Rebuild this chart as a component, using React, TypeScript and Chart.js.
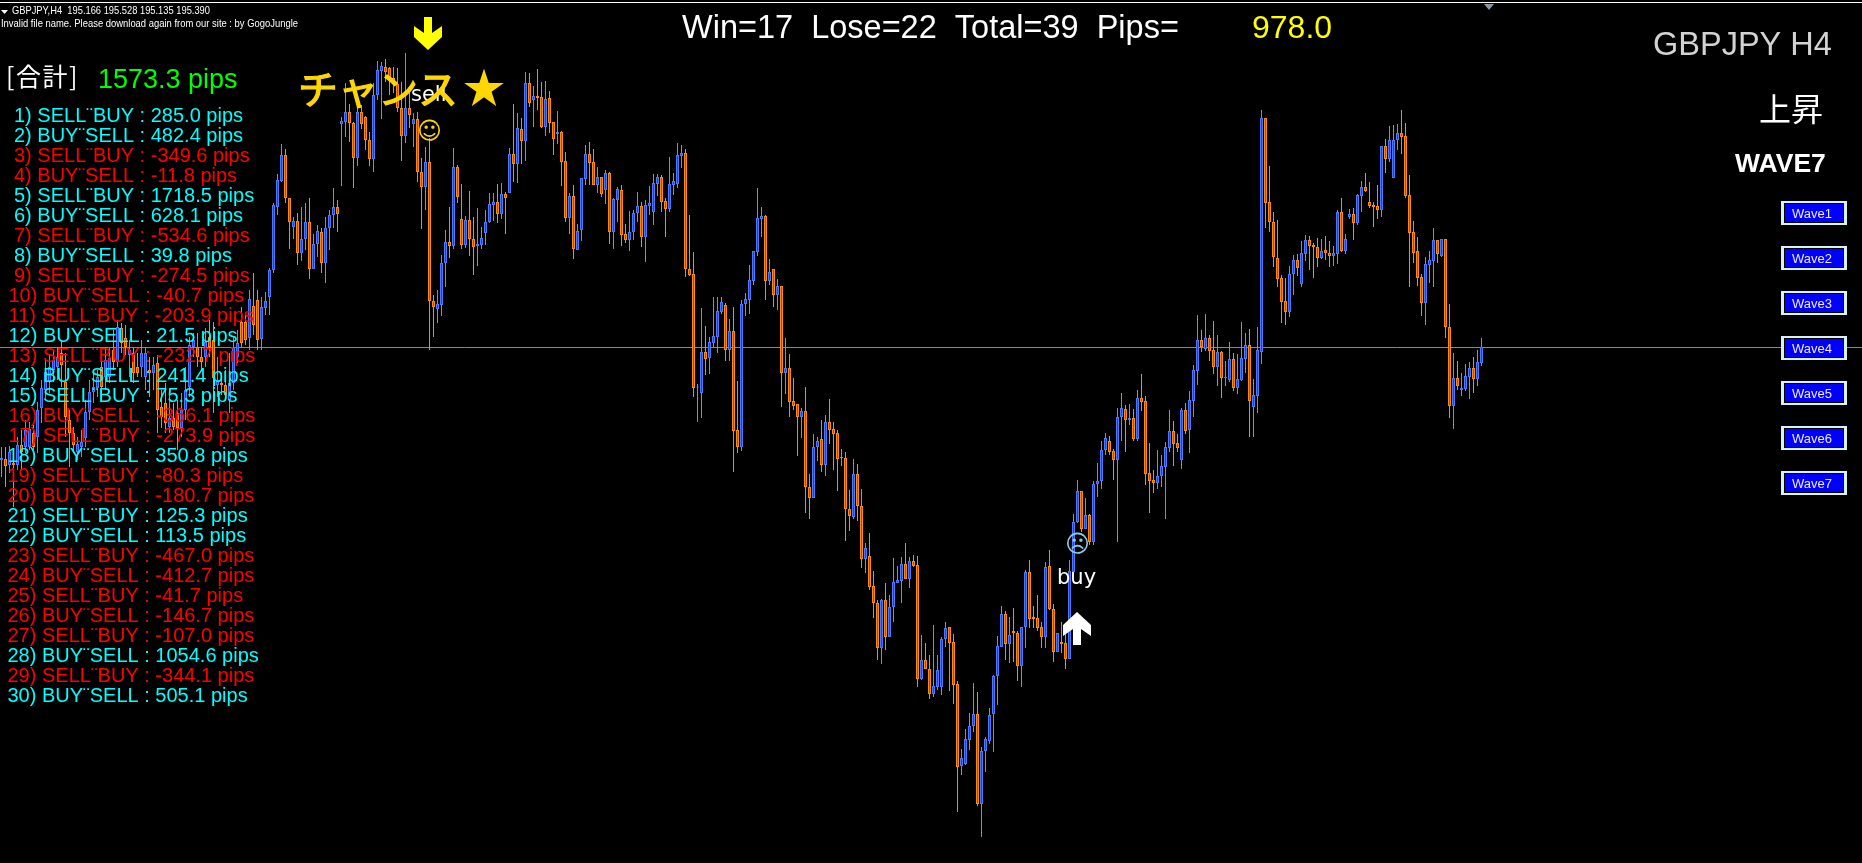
import React, { useEffect, useRef } from "react";
import { Chart, registerables } from "chart.js";

Chart.register(...registerables);

// GBPJPY H4 candles. Values are pips above the level 182.33.
const open = [
1080,1082,1070,1074,1070,1110,1106,1106,1134,1126,
1184,1220,1236,1260,1266,1294,1236,1160,1134,1096,
1106,1124,1176,1216,1224,1266,1246,1246,1300,1276,
1344,1324,1290,1294,1266,1266,1246,1260,1254,1274,
1186,1194,1146,1164,1174,1144,1180,1226,1306,1306,
1286,1286,1326,1320,1230,1234,1230,1200,1234,1286,
1356,1356,1324,1388,1400,1322,1384,1406,1460,1586,
1638,1690,1604,1546,1558,1494,1522,1556,1462,1512,
1536,1474,1544,1570,1586,1752,1756,1776,1754,1684,
1776,1766,1720,1682,1810,1858,1866,1864,1844,1832,
1784,1728,1784,1752,1762,1656,1626,1676,1398,1382,
1390,1474,1516,1508,1666,1562,1510,1560,1522,1508,
1510,1534,1556,1590,1596,1572,1612,1614,1692,1672,
1742,1718,1834,1800,1808,1806,1746,1804,1756,1732,
1736,1678,1564,1608,1500,1540,1642,1692,1676,1630,
1646,1620,1654,1536,1600,1620,1532,1520,1536,1574,
1588,1526,1588,1576,1632,1646,1598,1582,1630,1632,
1688,1694,1462,1452,1225,1214,1296,1284,1314,1326,
1376,1390,1300,1338,1140,1106,1392,1400,1438,1496,
1562,1568,1438,1462,1410,1428,1254,1264,1198,1192,
1166,1178,1026,1004,1106,1122,1070,1156,1142,1134,
1084,1084,982,966,1052,988,882,888,828,794,
704,800,726,786,834,838,872,842,878,870,
642,680,662,612,626,626,722,746,716,632,
468,472,520,548,572,392,498,518,572,648,
706,772,712,738,734,668,746,856,766,764,
746,726,868,782,696,716,714,682,856,956,
1018,942,970,916,1032,1038,1100,1118,1098,1080,
1166,1182,1160,1164,1122,1204,1198,1054,1040,1034,
1048,1066,1104,1138,1114,1080,1180,1140,1198,1258,
1320,1302,1324,1300,1266,1296,1244,1240,1282,1224,
1240,1282,1310,1186,1208,1296,1764,1596,1556,1484,
1444,1398,1376,1452,1480,1432,1492,1520,1510,1506,
1484,1500,1494,1488,1492,1576,1498,1566,1572,1554,
1608,1626,1596,1590,1588,1580,1708,1682,1644,1720,
1734,1728,1610,1536,1498,1446,1394,1470,1478,1520,
1488,1522,1346,1188,1244,1220,1222,1246,1264,1242,
1274,
];
const high = [
1106,1106,1108,1090,1126,1140,1160,1156,1150,1196,
1240,1284,1290,1300,1306,1320,1294,1180,1146,1126,
1140,1200,1240,1254,1260,1300,1306,1306,1340,1360,
1354,1350,1320,1306,1294,1320,1306,1286,1286,1290,
1220,1234,1220,1194,1200,1214,1266,1326,1334,1334,
1306,1344,1360,1356,1286,1254,1260,1294,1326,1340,
1386,1370,1420,1454,1420,1406,1416,1464,1594,1652,
1712,1702,1604,1566,1574,1586,1594,1604,1532,1550,
1544,1566,1580,1624,1600,1766,1834,1792,1756,1788,
1790,1768,1736,1834,1878,1876,1882,1866,1866,1864,
1836,1894,1820,1774,1776,1684,1706,1724,1410,1420,
1490,1540,1586,1704,1670,1632,1568,1618,1566,1584,
1546,1580,1614,1614,1632,1634,1616,1704,1792,1774,
1764,1856,1854,1828,1862,1836,1838,1818,1756,1778,
1738,1696,1614,1630,1552,1644,1710,1716,1702,1666,
1646,1660,1656,1604,1626,1630,1552,1578,1580,1616,
1596,1600,1628,1652,1652,1650,1604,1686,1654,1714,
1710,1702,1570,1496,1232,1384,1348,1326,1406,1406,
1406,1394,1362,1386,1238,1400,1414,1470,1498,1624,
1586,1570,1482,1462,1442,1428,1324,1292,1244,1192,
1184,1226,1052,1132,1126,1160,1170,1202,1156,1140,
1102,1096,1020,1082,1072,1022,914,934,858,800,
802,834,810,884,868,886,914,886,890,888,
730,714,690,750,690,726,756,746,732,638,
502,542,574,634,616,506,526,584,650,728,
788,778,766,784,738,746,860,880,788,810,
756,876,900,792,734,756,734,880,972,1040,
1018,1004,972,1038,1074,1118,1134,1128,1102,1184,
1214,1190,1192,1182,1220,1252,1208,1114,1060,1100,
1090,1116,1180,1158,1132,1184,1194,1218,1270,1370,
1340,1372,1330,1358,1330,1298,1278,1316,1294,1292,
1356,1334,1342,1242,1346,1780,1764,1668,1576,1560,
1450,1444,1468,1490,1492,1518,1530,1528,1514,1524,
1522,1528,1518,1508,1580,1604,1532,1582,1584,1612,
1638,1654,1636,1596,1630,1708,1722,1748,1750,1752,
1780,1754,1650,1558,1526,1452,1486,1498,1544,1520,
1522,1522,1392,1294,1278,1254,1272,1276,1286,1300,
1324,
];
const low = [
1046,1026,1054,986,1060,1060,1094,1100,1100,1094,
1154,1204,1214,1236,1240,1226,1126,1066,1094,1080,
1086,1106,1160,1194,1206,1220,1220,1234,1260,1266,
1294,1290,1246,1234,1246,1246,1220,1206,1220,1134,
1144,1134,1134,1140,1100,1126,1160,1206,1286,1266,
1260,1266,1286,1174,1206,1210,1200,1174,1220,1274,
1306,1310,1300,1330,1300,1300,1370,1370,1454,1570,
1636,1594,1502,1522,1470,1478,1500,1442,1462,1486,
1454,1434,1500,1544,1536,1628,1726,1716,1624,1668,
1742,1700,1668,1656,1800,1762,1836,1810,1814,1776,
1678,1714,1744,1706,1636,1542,1580,1300,1326,1354,
1368,1426,1484,1502,1594,1502,1504,1488,1450,1468,
1502,1510,1554,1558,1554,1562,1532,1614,1636,1634,
1672,1678,1786,1746,1780,1744,1728,1734,1690,1712,
1628,1556,1532,1482,1500,1518,1630,1630,1630,1614,
1606,1592,1512,1502,1556,1508,1514,1498,1520,1556,
1506,1476,1570,1550,1608,1576,1526,1576,1610,1624,
1664,1446,1448,1206,1156,1164,1250,1252,1306,1294,
1372,1278,1278,1056,1094,1098,1368,1372,1430,1488,
1526,1400,1430,1386,1380,1186,1212,1166,1180,1088,
1124,974,962,1004,1078,1056,1048,1112,1060,1018,
1068,918,938,962,958,864,854,820,764,680,
672,700,726,756,834,794,842,824,866,626,
640,662,602,606,620,610,706,618,592,376,
450,470,500,536,388,326,456,512,496,590,
706,680,674,676,638,626,704,744,744,738,
704,704,780,676,696,694,662,682,856,954,
936,942,910,910,1006,1022,1090,1090,1040,916,
1118,1096,1150,1118,1118,1178,1030,974,1014,1022,
1026,962,1096,1068,1096,1062,1132,1094,1166,1230,
1296,1298,1278,1252,1228,1204,1228,1236,1218,1212,
1238,1254,1126,1126,1174,1272,1544,1536,1466,1426,
1354,1350,1366,1410,1448,1426,1478,1460,1444,1466,
1482,1480,1466,1468,1472,1496,1492,1562,1520,1550,
1576,1616,1584,1546,1562,1566,1654,1676,1644,1700,
1692,1604,1426,1474,1428,1368,1350,1434,1426,1474,
1486,1324,1164,1142,1220,1208,1218,1202,1214,1228,
1268,
];
const close = [
1084,1068,1096,1070,1110,1096,1140,1142,1106,1180,
1224,1256,1266,1280,1286,1270,1166,1134,1110,1112,
1116,1176,1216,1226,1246,1226,1280,1284,1276,1346,
1314,1306,1300,1254,1254,1294,1294,1254,1270,1180,
1166,1154,1164,1146,1144,1180,1220,1310,1320,1286,
1276,1316,1306,1244,1240,1230,1210,1234,1306,1314,
1314,1320,1402,1350,1320,1386,1398,1460,1590,1640,
1690,1604,1556,1558,1494,1522,1556,1462,1512,1538,
1474,1544,1570,1586,1572,1758,1776,1754,1684,1776,
1752,1720,1682,1810,1860,1868,1856,1844,1832,1784,
1728,1784,1770,1762,1656,1626,1676,1398,1386,1392,
1474,1516,1508,1666,1606,1510,1560,1522,1506,1512,
1524,1556,1592,1596,1572,1612,1604,1692,1672,1744,
1718,1834,1794,1808,1804,1746,1802,1754,1722,1736,
1676,1564,1608,1502,1538,1644,1692,1674,1630,1646,
1612,1654,1536,1602,1622,1530,1520,1536,1574,1588,
1526,1590,1594,1634,1646,1596,1582,1632,1638,1690,
1694,1462,1450,1224,1226,1296,1282,1316,1328,1378,
1396,1300,1338,1138,1106,1392,1402,1440,1498,1564,
1568,1438,1456,1410,1428,1254,1264,1196,1188,1166,
1178,1026,1004,1106,1118,1070,1156,1140,1132,1082,
1084,982,968,1052,988,882,904,826,794,704,
800,726,786,836,840,872,842,878,868,642,
680,662,612,628,660,722,744,714,630,466,
484,522,548,572,392,498,522,570,648,708,
772,712,730,734,668,746,856,762,762,744,
726,866,782,696,734,712,682,858,956,1018,
942,970,916,1032,1038,1100,1124,1096,1080,1166,
1184,1160,1164,1122,1204,1196,1052,1038,1034,1048,
1068,1106,1138,1112,1104,1180,1138,1200,1260,1320,
1306,1324,1298,1266,1296,1244,1246,1282,1224,1242,
1284,1310,1198,1210,1300,1764,1594,1556,1486,1442,
1396,1376,1452,1480,1464,1494,1520,1508,1506,1484,
1498,1494,1488,1494,1576,1498,1522,1572,1554,1610,
1626,1618,1588,1586,1580,1708,1682,1720,1720,1734,
1726,1608,1534,1494,1444,1394,1472,1480,1520,1492,
1522,1346,1188,1244,1228,1224,1248,1264,1242,1276,
1306,
];

const currentLevel = 1305;
const tradeKinds = ["SELL¨BUY", "BUY¨SELL"];
const tradePips = ["285.0","482.4","-349.6","-11.8","1718.5","628.1","-534.6","39.8","-274.5","-40.7",
  "-203.9","21.5","-232.7","241.4","75.3","-366.1","-273.9","350.8","-80.3","-180.7",
  "125.3","113.5","-467.0","-412.7","-41.7","-146.7","-107.0","1054.6","-344.1","505.1"];
const waveLabels = ["Wave1","Wave2","Wave3","Wave4","Wave5","Wave6","Wave7"];

const ARIAL = '"Liberation Sans", Arial, sans-serif';
const CJK = '"Noto Sans CJK JP", sans-serif';
const DEJAVU = '"DejaVu Sans", sans-serif';

function poly(ctx: CanvasRenderingContext2D, pts: number[][], color: string) {
  ctx.fillStyle = color;
  ctx.beginPath();
  pts.forEach((p, i) => (i ? ctx.lineTo(p[0], p[1]) : ctx.moveTo(p[0], p[1])));
  ctx.closePath();
  ctx.fill();
}

function text(ctx: CanvasRenderingContext2D, s: string, x: number, y: number, font: string, color: string, width?: number) {
  ctx.font = font;
  ctx.fillStyle = color;
  if (width) ctx.fillText(s, x, y, width);
  else ctx.fillText(s, x, y);
}

const overlay = {
  id: "overlay",
  afterDatasetsDraw(chart: any) {
    const ctx: any = chart.ctx;
    ctx.save();
    ctx.textBaseline = "alphabetic";
    ctx.textAlign = "left";
    ctx.fillStyle = "#ffffff";
    ctx.fillRect(0, 2, 1862, 1);
    poly(ctx, [[1,10],[8,10],[4.5,14]], "#ffffff");
    poly(ctx, [[1484,4],[1494,4],[1489,10]], "#8a96a3");

    text(ctx, "GBPJPY,H4  195.166 195.528 195.135 195.390", 12, 14, `11px ${ARIAL}`, "#ffffff", 198);
    text(ctx, "Invalid file name. Please download again from our site : by GogoJungle", 1, 27, `11px ${ARIAL}`, "#ffffff", 297);

    ctx.letterSpacing = "1.5px";
    text(ctx, "[合計]", 6, 86, `25px ${CJK}`, "#ffffff");
    ctx.letterSpacing = "0px";
    text(ctx, "1573.3 pips", 98, 88, `27px ${ARIAL}`, "#00ff00", 140);

    tradePips.forEach((p, i) => {
      const n = i + 1;
      const x = n < 10 ? 14 : n < 18 ? 8.5 : 7.5;
      const c = p.startsWith("-") ? "#ff0000" : "#00ffff";
      const s = `${n}) ${tradeKinds[i % 2 === 0 ? 0 : 1]} : ${p} pips`;
      text(ctx, s, x, 122 + 20 * i, `20px ${ARIAL}`, c);
    });

    text(ctx, "Win=17  Lose=22  Total=39  Pips=", 682, 38, `32.5px ${ARIAL}`, "#ffffff", 500);
    text(ctx, "978.0", 1252, 38, `32px ${ARIAL}`, "#ffff00");
    text(ctx, "GBPJPY H4", 1653, 55, `32.5px ${ARIAL}`, "#d3d3d3");
    text(ctx, "上昇", 1759, 121, `32px ${CJK}`, "#ffffff");
    text(ctx, "WAVE7", 1735, 172, `bold 26.5px ${ARIAL}`, "#ffffff");

    waveLabels.forEach((w, i) => {
      const y = 201 + 45 * i;
      ctx.fillStyle = "#d8f0ee";
      ctx.fillRect(1781, y, 66, 24);
      ctx.fillStyle = "#000000";
      ctx.fillRect(1784, y + 2, 60, 20);
      ctx.fillStyle = "#0000ff";
      ctx.fillRect(1785, y + 3, 58, 18);
      ctx.textAlign = "center";
      text(ctx, w, 1812, y + 17, `13px ${ARIAL}`, "#f0e8ff");
      ctx.textAlign = "left";
    });

    text(ctx, "sell", 411, 101, `21px ${DEJAVU}`, "#ffffff");
    text(ctx, "チャンス", 298, 104, `40px ${CJK}`, "#ffd700");
    ctx.strokeStyle = "#ffd700";
    ctx.lineWidth = 1.2;
    ctx.strokeText("チャンス", 298, 104);
    text(ctx, "★", 463, 103, `42px ${CJK}`, "#ffd700");
    text(ctx, "☺", 417, 139, `24px ${DEJAVU}`, "#ffd700");
    text(ctx, "☹", 1065, 552, `24px ${DEJAVU}`, "#87ceeb");
    text(ctx, "buy", 1057, 584, `21px ${DEJAVU}`, "#ffffff");

    poly(ctx, [[424,17],[432,17],[432,33],[442,26],[442,37],[428,50],[414,37],[414,26],[424,33]], "#ffff00");
    poly(ctx, [[1077,612],[1091,625],[1091,636],[1081,629],[1081,645],[1073,645],[1073,629],[1063,636],[1063,625]], "#ffffff");
    ctx.restore();
  },
};

export default function App() {
  const ref = useRef<HTMLCanvasElement>(null);
  useEffect(() => {
    document.body.style.margin = "0";
    document.body.style.background = "#000";
    const idx = open.map((_, i) => i);
    const isBull = (i: number) => close[i] > open[i];
    const isDoji = (i: number) => close[i] === open[i];
    const wickColor = idx.map((i) => (isDoji(i) ? "#00ff00" : isBull(i) ? "#6495ed" : "#ff8c00"));
    const bodyFill = idx.map((i) => (isDoji(i) ? "#00ff00" : isBull(i) ? "#1a3cff" : "#ff2000"));
    const bodyLine = idx.map((i) => (isDoji(i) ? "#00ff00" : isBull(i) ? "#4a78ff" : "#ff8c00"));
    const xMin = -0.375;
    const xMax = 465.125;
    const chart = new Chart(ref.current!, {
      type: "bar",
      data: {
        datasets: [
          {
            type: "line",
            data: [{ x: xMin, y: currentLevel }, { x: xMax, y: currentLevel }],
            borderColor: "#7d8a99",
            borderWidth: 1,
            pointRadius: 0,
            order: 3,
          },
          {
            data: idx.map((i) => ({ x: i, y: [low[i], high[i]] })),
            backgroundColor: wickColor,
            borderWidth: 0,
            barThickness: 1,
            grouped: false,
            inflateAmount: 0,
            order: 2,
          },
          {
            data: idx.map((i) => ({ x: i, y: [open[i], close[i]] })),
            backgroundColor: bodyFill,
            borderColor: bodyLine,
            borderWidth: 1,
            borderSkipped: false,
            barThickness: 3,
            grouped: false,
            inflateAmount: 0,
            minBarLength: 1,
            order: 1,
          },
        ] as any,
      },
      options: {
        responsive: false,
        animation: false,
        devicePixelRatio: 1,
        layout: { padding: 0 },
        plugins: { legend: { display: false }, tooltip: { enabled: false } },
        scales: {
          x: { type: "linear", min: xMin, max: xMax, offset: false, display: false, bounds: "data" },
          y: { type: "linear", min: 274, max: 2000, display: false, bounds: "data" },
        },
      } as any,
      plugins: [overlay],
    });
    return () => chart.destroy();
  }, []);
  return (
    <canvas
      ref={ref}
      width={1862}
      height={863}
      style={{ display: "block", position: "absolute", left: 0, top: 0, width: 1862, height: 863, background: "#000" }}
    />
  );
}
